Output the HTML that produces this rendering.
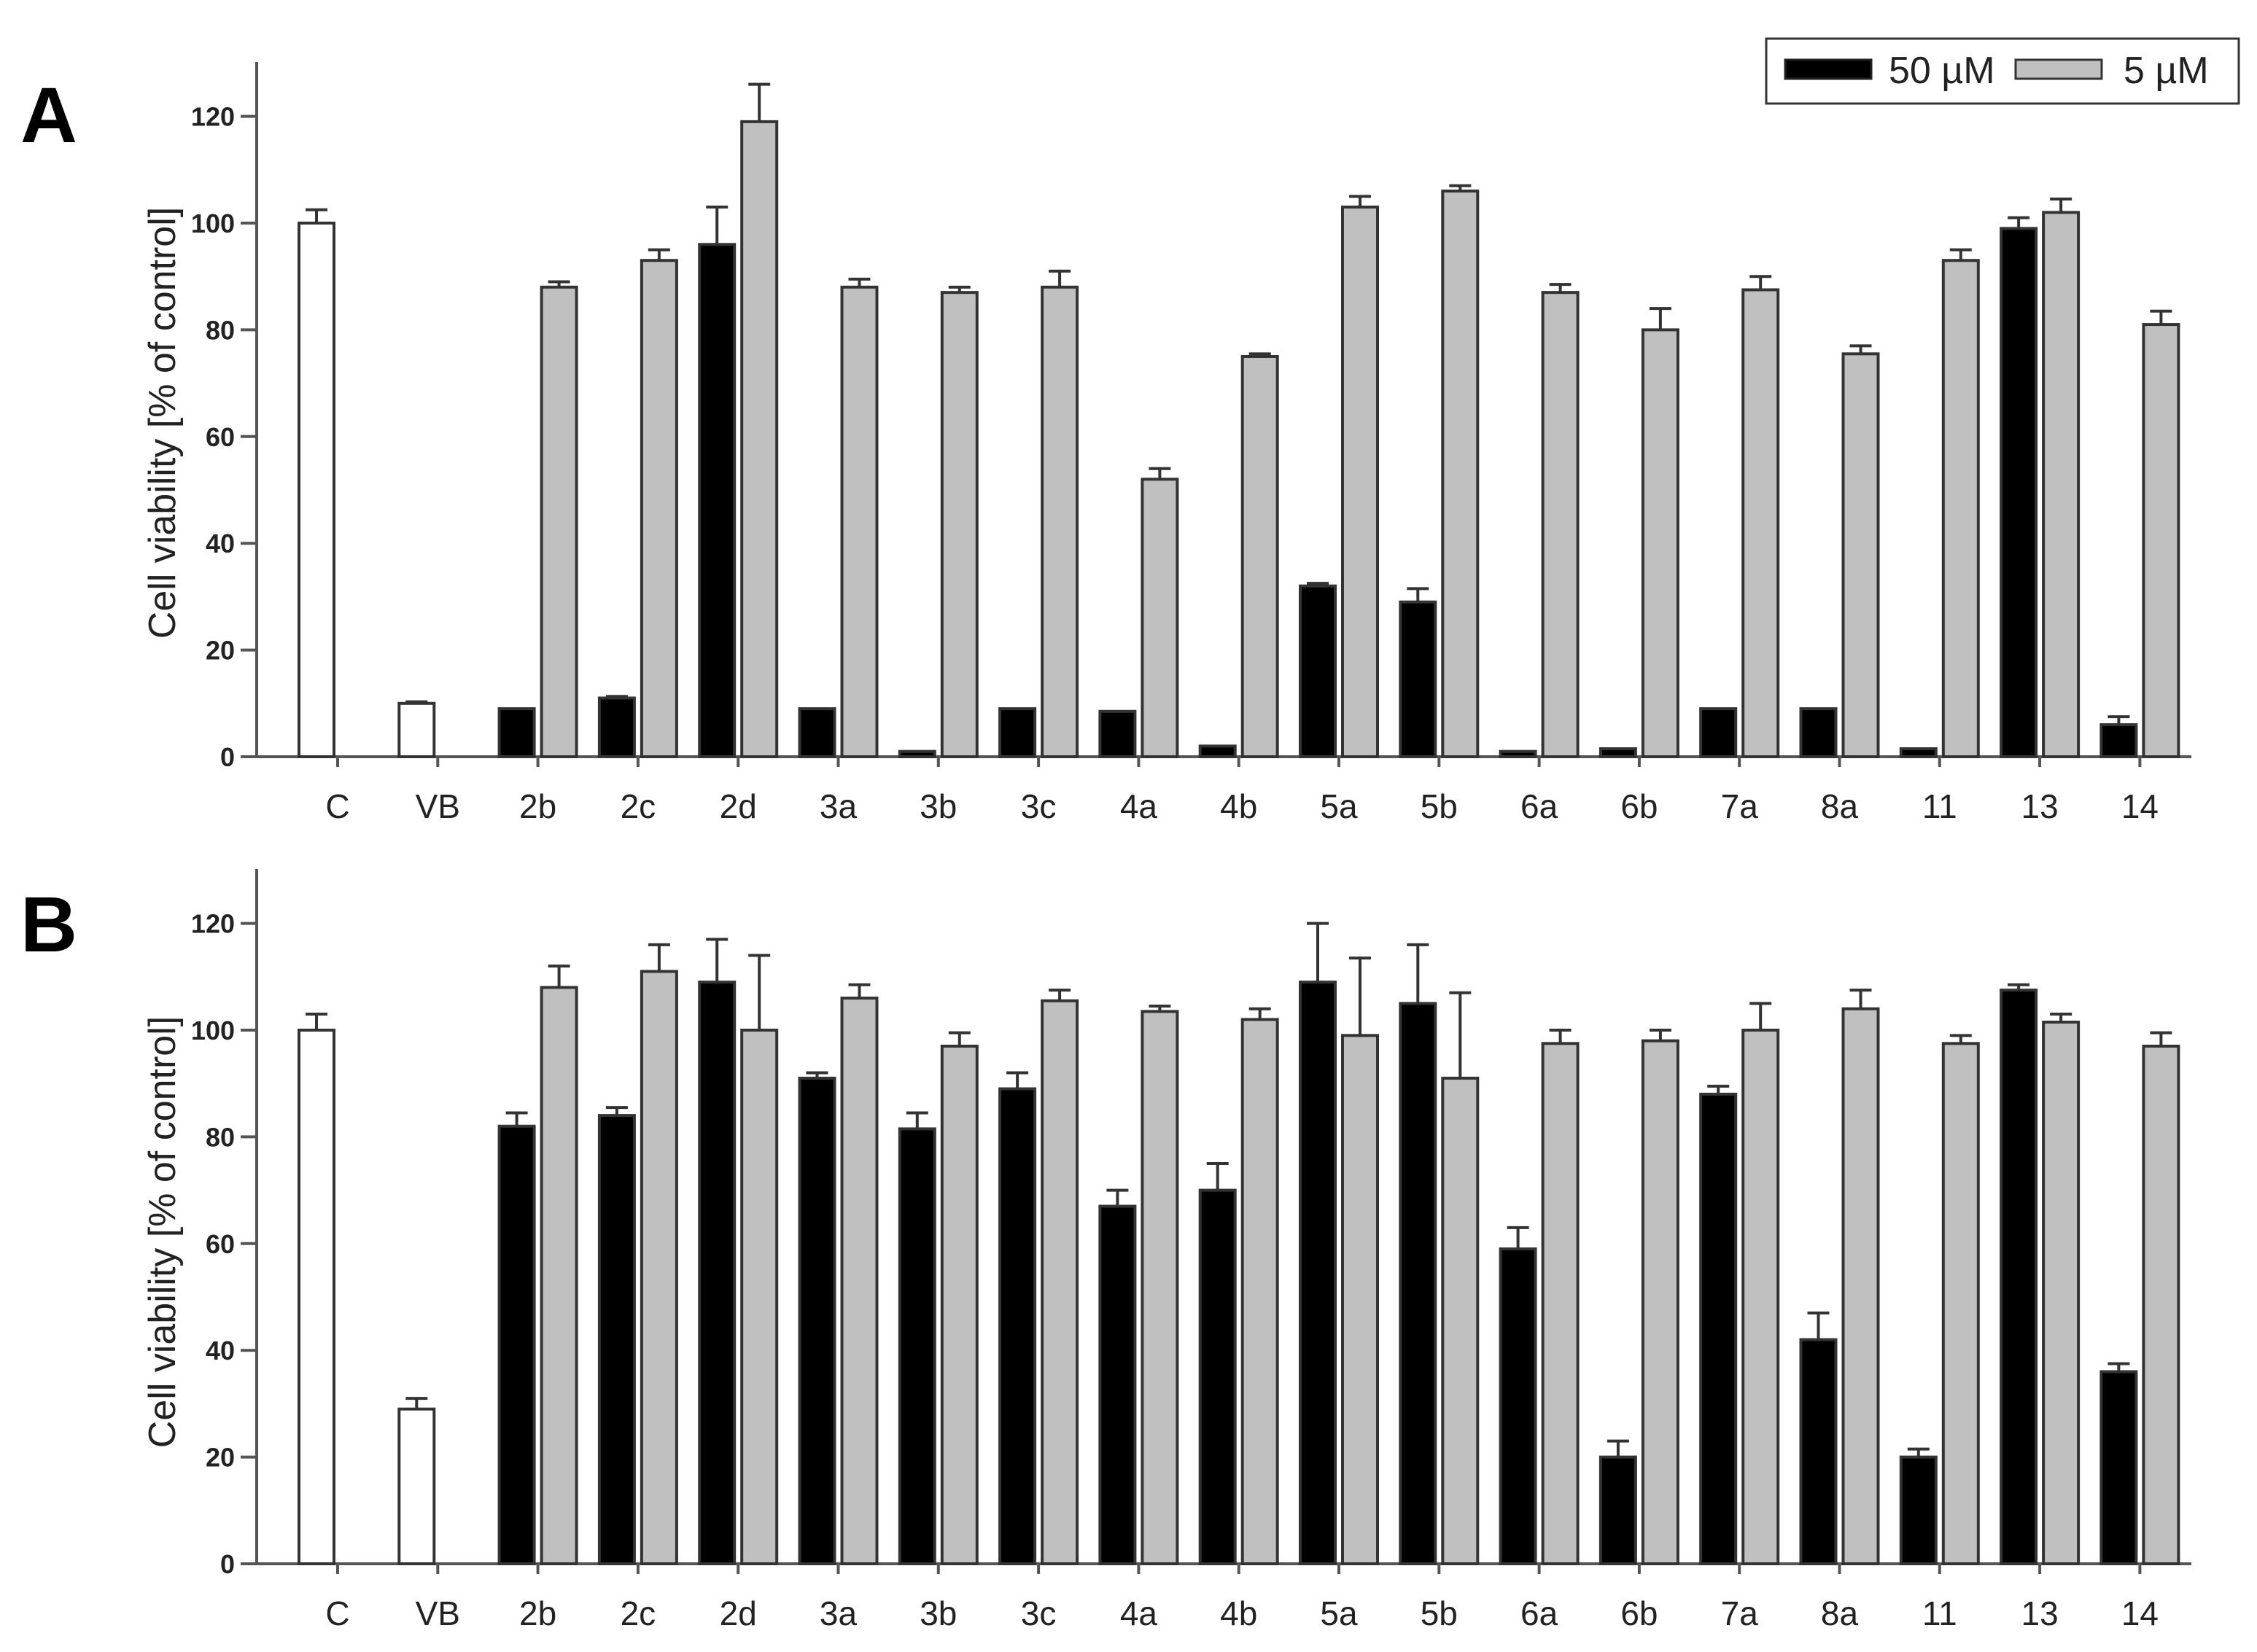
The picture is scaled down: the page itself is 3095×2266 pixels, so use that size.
<!DOCTYPE html>
<html><head><meta charset="utf-8">
<style>
html,body{margin:0;padding:0;background:#fff;}
svg{display:block;}
text{font-family:"Liberation Sans",Arial,sans-serif;}
</style></head>
<body>
<svg id="fig" width="3095" height="2266" viewBox="0 0 3095 2266" xmlns="http://www.w3.org/2000/svg">
  <rect x="0" y="0" width="3095" height="2266" fill="#fff"/>
  <g>
    <rect x="2422" y="53" width="648" height="89" fill="#fff" stroke="#333" stroke-width="3"/>
    <rect x="2448" y="82" width="118" height="26" fill="#000" stroke="#222" stroke-width="3"/>
    <text x="2590" y="114" font-size="52" fill="#222">50 µM</text>
    <rect x="2764" y="82" width="118" height="26" fill="#c0c0c0" stroke="#333" stroke-width="3"/>
    <text x="2912" y="114" font-size="52" fill="#222">5 µM</text>
  </g>
  <g id="panelA"></g>
  <g id="panelB"></g>
</svg>
<script>
const categories = ["C","VB","2b","2c","2d","3a","3b","3c","4a","4b","5a","5b","6a","6b","7a","8a","11","13","14"];
const yTicks = [0,20,40,60,80,100,120];
// Panel A: null = no bar; C and VB are control bars (white)
const a50 = [100,10,9,11,96,9,1,9,8.5,2,32,29,1,1.5,9,9,1.5,99,6];
const a50err = [2.5,0.3,0,0.3,7,0,0,0,0,0,0.5,2.5,0,0,0,0,0,2,1.5];
const a5 = [null,null,88,93,119,88,87,88,52,75,103,106,87,80,87.5,75.5,93,102,81];
const a5err = [0,0,1,2,7,1.5,1,3,2,0.5,2,1,1.5,4,2.5,1.5,2,2.5,2.5];
// Panel B
const b50 = [100,29,82,84,109,91,81.5,89,67,70,109,105,59,20,88,42,20,107.5,36];
const b50err = [3,2,2.5,1.5,8,1,3,3,3,5,11,11,4,3,1.5,5,1.5,1,1.5];
const b5 = [null,null,108,111,100,106,97,105.5,103.5,102,99,91,97.5,98,100,104,97.5,101.5,97];
const b5err = [0,0,4,5,14,2.5,2.5,2,1,2,14.5,16,2.5,2,5,3.5,1.5,1.5,2.5];

const NS = "http://www.w3.org/2000/svg";
function mk(tag, attrs, parent){
  const e = document.createElementNS(NS, tag);
  for (const k in attrs) e.setAttribute(k, attrs[k]);
  parent.appendChild(e);
  return e;
}
function drawPanel(g, cfg, v50, e50, v5, e5, letter){
  const axisX = 352, xEnd = 3005, y0 = cfg.y0, pxPerUnit = 7.32, top = cfg.top;
  const xScale = i => 463 + i * 137.3;
  const yScale = v => y0 - v * pxPerUnit;
  const lt = mk('text', {x: 28, y: cfg.letterY, 'font-size': 108, 'font-weight': 'bold', fill: '#000'}, g);
  
  
  lt.textContent = letter.toUpperCase();
  const ya = mk('line', {x1: axisX, y1: top, x2: axisX, y2: y0 + 2, stroke: '#555', 'stroke-width': 4}, g);
  
  
  yTicks.forEach(t => {
    const y = yScale(t);
    const tk = mk('line', {x1: axisX - 22, y1: y, x2: axisX, y2: y, stroke: '#555', 'stroke-width': 4}, g);
    
    
    const tl = mk('text', {x: axisX - 30, y: y + 13, 'font-size': 36, 'font-weight': 'bold', 'text-anchor': 'end', fill: '#222'}, g);
    
    
    tl.textContent = t;
  });
  const yt = mk('text', {x: 0, y: 0, 'font-size': 52, 'text-anchor': 'middle', fill: '#222', transform: `translate(240,${cfg.titleY}) rotate(-90)`}, g);
  
  
  yt.textContent = 'Cell viability [% of control]';
  const xa = mk('line', {x1: axisX - 22, y1: y0, x2: xEnd, y2: y0, stroke: '#555', 'stroke-width': 4}, g);
  
  
  categories.forEach((c, i) => {
    const x = xScale(i);
    const tk = mk('line', {x1: x, y1: y0, x2: x, y2: y0 + 14, stroke: '#555', 'stroke-width': 4}, g);
    
    
    const tl = mk('text', {x: x, y: y0 + 84, 'font-size': 46, 'text-anchor': 'middle', fill: '#222'}, g);
    
    
    tl.textContent = c;
    const control = i < 2;
    const v = v50[i];
    if (v !== null) {
      const bx = x - 53, by = yScale(v);
      const b = mk('rect', {x: bx, y: by, width: 48, height: y0 - by, fill: control ? '#fff' : '#000', stroke: '#333', 'stroke-width': 4}, g);
      
      
      if (e50[i] > 0) {
        const ey = yScale(v + e50[i]), cx = bx + 24;
        const el = mk('path', {d: `M${cx},${by} V${ey} M${cx - 15},${ey} H${cx + 15}`, stroke: '#333', 'stroke-width': 4, fill: 'none'}, g);
        
        
      }
    }
    const w = v5[i];
    if (w !== null) {
      const bx = x + 5, by = yScale(w);
      const b = mk('rect', {x: bx, y: by, width: 48, height: y0 - by, fill: '#c0c0c0', stroke: '#333', 'stroke-width': 4}, g);
      
      
      if (e5[i] > 0) {
        const ey = yScale(w + e5[i]), cx = bx + 24;
        const el = mk('path', {d: `M${cx},${by} V${ey} M${cx - 15},${ey} H${cx + 15}`, stroke: '#333', 'stroke-width': 4, fill: 'none'}, g);
        
        
      }
    }
  });
}
drawPanel(document.getElementById('panelA'), {y0: 1038, top: 85, letterY: 195, titleY: 580}, a50, a50err, a5, a5err, 'a');
drawPanel(document.getElementById('panelB'), {y0: 2145, top: 1192, letterY: 1305, titleY: 1690}, b50, b50err, b5, b5err, 'b');
</script>
</body></html>
